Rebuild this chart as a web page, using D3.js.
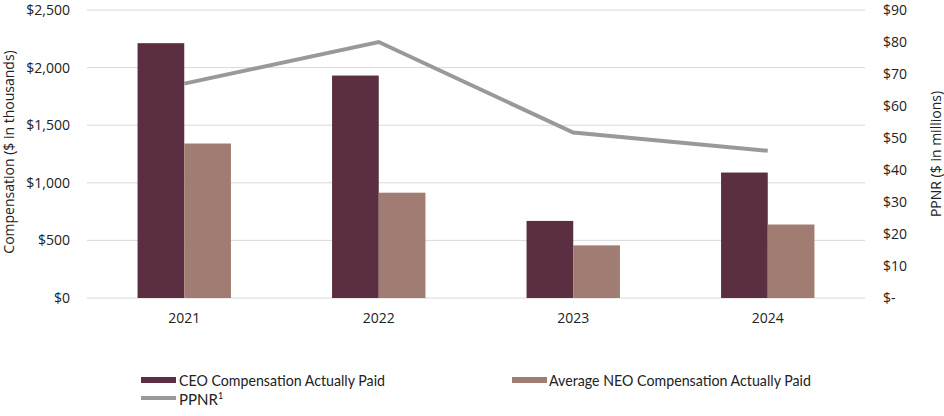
<!DOCTYPE html>
<html>
<head>
<meta charset="utf-8">
<script src="https://cdn.jsdelivr.net/npm/d3@7"></script>
<style>
  body { margin: 0; background: #fff; }
  .tick text { font-family: "Open Sans", sans-serif; font-size: 14px; fill: #222; }
  .aText { font-family: "Open Sans", sans-serif; font-size: 14px; fill: #222; }
  .legText { font-family: "Lato", sans-serif; font-size: 15px; fill: #222; }
</style>
</head>
<body>
<div id="chart"></div>
<script>
// Chart data
var years = ["2021", "2022", "2023", "2024"];
var ceoPaid = [2212, 1931, 669, 1089];
var neoPaid = [1341, 914, 457, 638];
var ppnr = [67, 80, 51.7, 46];
var leftTicks = [0, 500, 1000, 1500, 2000, 2500];
var rightTicks = [0, 10, 20, 30, 40, 50, 60, 70, 80, 90];

var svgWidth = 944;
var svgHeight = 416;

var margin = { top: 10, right: 79, bottom: 118, left: 87 };
var width = svgWidth - margin.left - margin.right;
var height = svgHeight - margin.top - margin.bottom;

var svg = d3.select("#chart")
  .append("svg")
  .attr("width", svgWidth)
  .attr("height", svgHeight);

var chartGroup = svg.append("g")
  .attr("transform", `translate(${margin.left}, ${margin.top})`);

// Scales
var xBand = d3.scaleBand().domain(years).range([0, width]);
var xInner = d3.scaleBand().domain(["ceo", "neo"]).range([-46.7, 46.7]);
var yLeft = d3.scaleLinear().domain([0, 2500]).range([height, 0]);
var yRight = d3.scaleLinear().domain([0, 90]).range([height, 0]);

// Gridlines
chartGroup.append("g")
  .selectAll("line")
  .data(leftTicks)
  .enter()
  .append("line")
  .attr("x1", 0)
  .attr("x2", width)
  .attr("y1", d => yLeft(d))
  .attr("y2", d => yLeft(d))
  .attr("stroke", "#d9d9d9")
  .attr("stroke-width", 1);

// Axes
var leftAxis = d3.axisLeft(yLeft)
  .tickValues(leftTicks)
  .tickSize(0)
  .tickPadding(17)
  .tickFormat(d => "$" + d3.format(",")(d));
chartGroup.append("g").call(leftAxis).call(g => g.select(".domain").remove());

var rightAxis = d3.axisRight(yRight)
  .tickValues(rightTicks)
  .tickSize(0)
  .tickPadding(18)
  .tickFormat(d => d === 0 ? "$-" : "$" + d);
chartGroup.append("g")
  .attr("transform", `translate(${width}, 0)`)
  .call(rightAxis)
  .call(g => g.select(".domain").remove());

var bottomAxis = d3.axisBottom(xBand).tickSize(0).tickPadding(15);
chartGroup.append("g")
  .attr("transform", `translate(0, ${height})`)
  .call(bottomAxis)
  .call(g => g.select(".domain").remove());

// Bars
var center = d => xBand(d) + xBand.bandwidth() / 2;

chartGroup.selectAll(".ceoBar")
  .data(years)
  .enter()
  .append("rect")
  .attr("class", "ceoBar")
  .attr("x", d => center(d) + xInner("ceo"))
  .attr("width", xInner.bandwidth())
  .attr("y", (d, i) => yLeft(ceoPaid[i]))
  .attr("height", (d, i) => height - yLeft(ceoPaid[i]))
  .attr("fill", "#5c2e42");

chartGroup.selectAll(".neoBar")
  .data(years)
  .enter()
  .append("rect")
  .attr("class", "neoBar")
  .attr("x", d => center(d) + xInner("neo"))
  .attr("width", xInner.bandwidth())
  .attr("y", (d, i) => yLeft(neoPaid[i]))
  .attr("height", (d, i) => height - yLeft(neoPaid[i]))
  .attr("fill", "#a07c72");

// PPNR line
var line = d3.line()
  .x((d, i) => center(years[i]))
  .y(d => yRight(d));

chartGroup.append("path")
  .datum(ppnr)
  .attr("d", line)
  .attr("fill", "none")
  .attr("stroke", "#999999")
  .attr("stroke-width", 4);

// Axis titles
svg.append("text")
  .attr("transform", `translate(14, ${margin.top + height / 2 - 2}) rotate(-90)`)
  .attr("text-anchor", "middle")
  .attr("class", "aText")
  .text("Compensation ($ in thousands)");

svg.append("text")
  .attr("transform", `translate(936, ${margin.top + height / 2}) rotate(-90)`)
  .attr("text-anchor", "middle")
  .attr("dy", "0.35em")
  .attr("class", "aText")
  .text("PPNR ($ in millions)");

// Legend
var legend = svg.append("g");

legend.append("rect").attr("x", 141).attr("y", 377).attr("width", 35).attr("height", 6).attr("fill", "#5c2e42");
legend.append("text").attr("x", 179).attr("y", 386).attr("class", "legText")
  .attr("textLength", 206).attr("lengthAdjust", "spacingAndGlyphs")
  .text("CEO Compensation Actually Paid");

legend.append("rect").attr("x", 512).attr("y", 377).attr("width", 35).attr("height", 6).attr("fill", "#a07c72");
legend.append("text").attr("x", 549).attr("y", 386).attr("class", "legText")
  .attr("textLength", 262).attr("lengthAdjust", "spacingAndGlyphs")
  .text("Average NEO Compensation Actually Paid");

legend.append("line").attr("x1", 141).attr("x2", 176).attr("y1", 398).attr("y2", 398)
  .attr("stroke", "#999999").attr("stroke-width", 4);
legend.append("text").attr("x", 179).attr("y", 405).attr("class", "legText")
  .text("PPNR")
  .append("tspan").attr("font-size", "9px").attr("dy", "-6").text("1");
</script>
</body>
</html>
